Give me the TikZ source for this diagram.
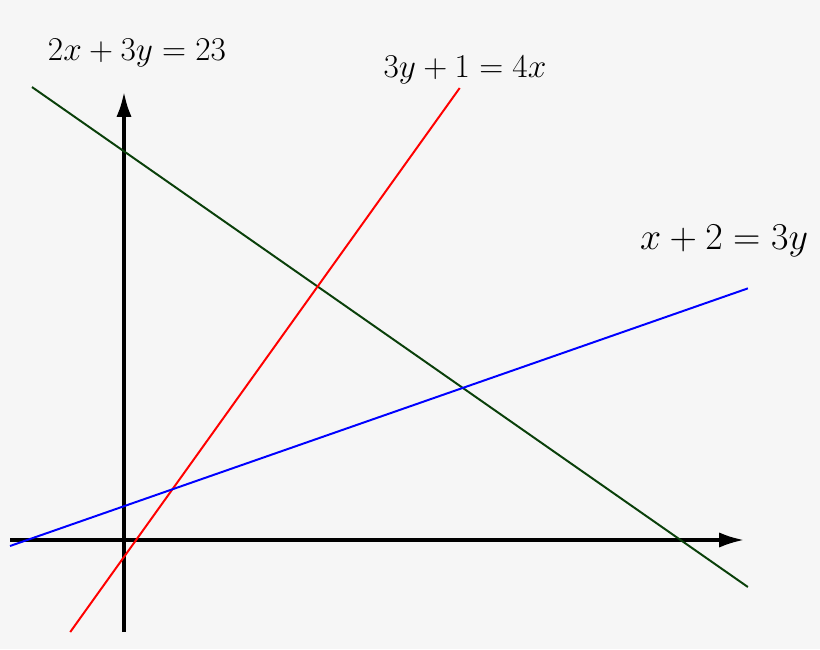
\documentclass[tikz,border=0pt]{standalone}
\usepackage{fix-cm}
\usetikzlibrary{arrows.meta, positioning}
\definecolor{bggray}{RGB}{246,246,246}
\definecolor{eqgreen}{RGB}{10,64,10}

\begin{document}
\begin{tikzpicture}[x=1.21cm, y=1.2675cm]
    \tikzstyle{axis} = [line width=2.3pt, -{Latex[length=6.2mm, width=3.8mm]}]
    \tikzstyle{eqline} = [line width=1.4pt]
    \tikzstyle{eqlabel} = [font=\fontsize{23.7}{28}\selectfont, inner sep=0pt]

    % background and frame
    \fill[bggray] (-2.562,-2.150) rectangle (14.380,10.651);
    \useasboundingbox (-2.562,-2.150) rectangle (14.380,10.651);

    % axes
    \coordinate (xs) at (-2.355,0);
    \coordinate (xe) at (12.81,0);
    \coordinate (ys) at (0,-1.815);
    \coordinate (ye) at (0,8.836);
    \draw[axis] (xs) -- (xe);
    \draw[axis] (ys) -- (ye);

    % the three lines
    \coordinate (gs) at (-1.901,8.934);
    \coordinate (ge) at (12.89,-0.927);
    \coordinate (rs) at (-1.111,-1.815);
    \coordinate (re) at (6.936,8.915);
    \coordinate (bs) at (-2.355,-0.118);
    \coordinate (be) at (12.89,4.963);
    \draw[eqline, eqgreen] (gs) -- (ge);
    \draw[eqline, red] (rs) -- (re);
    \draw[eqline, blue] (bs) -- (be);

    % labels
    \node[eqlabel] (lgreen) at (0.269,9.606) {$2x+3y=23$};
    \node[eqlabel] (lred) at (7.045,9.270) {$3y+1=4x$};
    \node[eqlabel, font=\fontsize{27}{32}\selectfont] (lblue) at (12.397,5.90) {$x+2=3y$};
\end{tikzpicture}
\end{document}
